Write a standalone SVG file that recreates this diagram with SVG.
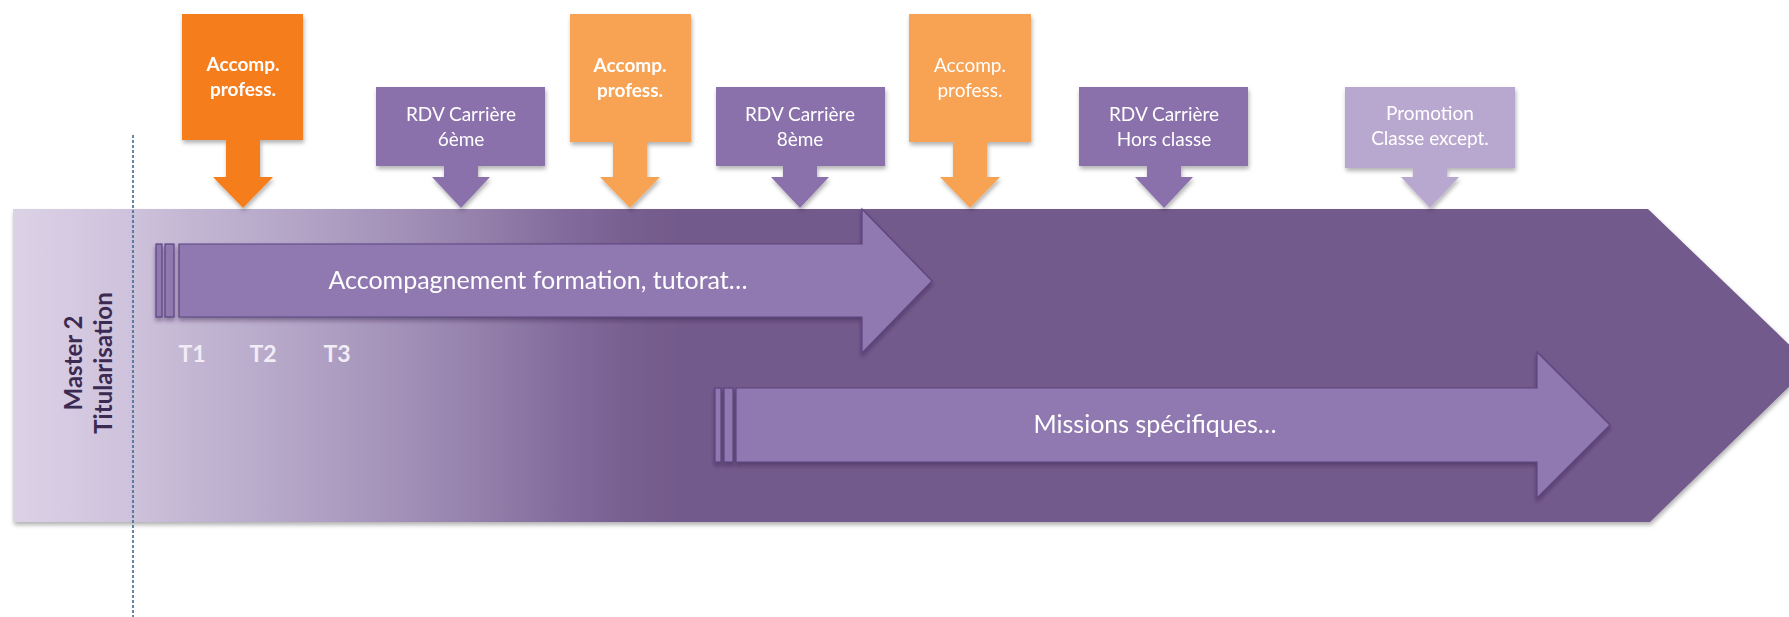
<svg xmlns="http://www.w3.org/2000/svg" width="1789" height="617" viewBox="0 0 1789 617">
<style>
.t{font-family:Lato,"Liberation Sans",sans-serif;fill:#ffffff;text-anchor:middle}
.b{font-weight:bold}
.orangeA{fill:#f57d1f}
.orangeB{fill:#f8a252}
.rdv{fill:#8b71ab}
.promo{fill:#b8a8cf}
.inner{fill:#9079b0;stroke:#5c4580;stroke-width:1.2}
.side{font-family:Lato,"Liberation Sans",sans-serif;font-weight:bold;fill:#3b2a52;text-anchor:middle;font-size:24px}
.tk{font-family:Lato,"Liberation Sans",sans-serif;font-weight:bold;fill:#f1ecf5;font-size:23px;text-anchor:middle}
</style>
<defs>
<linearGradient id="band" gradientUnits="userSpaceOnUse" x1="13" y1="0" x2="1811" y2="0">
<stop offset="0" stop-color="#dcd2e6"/>
<stop offset="0.065" stop-color="#cec2dc"/>
<stop offset="0.1" stop-color="#c3b6d3"/>
<stop offset="0.16" stop-color="#b3a4c6"/>
<stop offset="0.215" stop-color="#a391b8"/>
<stop offset="0.26" stop-color="#9480ab"/>
<stop offset="0.305" stop-color="#836c9d"/>
<stop offset="0.345" stop-color="#775f90"/>
<stop offset="0.37" stop-color="#735a8c"/>
<stop offset="1" stop-color="#735a8c"/>
</linearGradient>
<filter id="sh" x="-10%" y="-10%" width="120%" height="130%">
<feDropShadow dx="1" dy="3" stdDeviation="2" flood-color="#000" flood-opacity="0.3"/>
</filter>
<filter id="sh2" x="-5%" y="-10%" width="110%" height="130%">
<feDropShadow dx="0" dy="3" stdDeviation="2" flood-color="#2a1a40" flood-opacity="0.45"/>
</filter>
</defs>

<g id="band-node">
<polygon points="13,209 1648,209 1811,365.5 1650,522 13,522" fill="url(#band)" filter="url(#sh)"/>
</g>

<g id="separator">
<line x1="133" y1="135" x2="133" y2="617" stroke="#3f6b90" stroke-width="1.6" stroke-dasharray="3,2"/>
</g>

<g id="label-master">
<text class="side" transform="translate(82,363) rotate(-90)">Master 2</text>
<text class="side" transform="translate(112,363) rotate(-90)">Titularisation</text>
</g>

<g id="arrow-accompagnement" filter="url(#sh2)">
<rect class="inner" x="156" y="244" width="6" height="73"/>
<rect class="inner" x="165" y="244" width="9" height="73"/>
<polygon class="inner" points="179,244 862,244 862,209 932,281 862,353 862,317 179,317"/>
<text class="t" x="538" y="289" font-size="25">Accompagnement formation, tutorat…</text>
</g>

<g id="ticks">
<text class="tk" x="192" y="362">T1</text>
<text class="tk" x="263" y="362">T2</text>
<text class="tk" x="337" y="362">T3</text>
</g>

<g id="arrow-missions" filter="url(#sh2)">
<rect class="inner" x="715" y="388" width="6" height="74"/>
<rect class="inner" x="724" y="388" width="9" height="74"/>
<polygon class="inner" points="736,388 1537,388 1537,352 1610,425 1537,498 1537,462 736,462"/>
<text class="t" x="1155" y="433" font-size="25">Missions spécifiques…</text>
</g>

<g id="callout-accomp-1" filter="url(#sh)">
<polygon class="orangeA" points="182,14 303,14 303,140 260,140 260,177 273,177 243,208 213,177 226,177 226,140 182,140"/>
<text class="t b" x="243" y="71" font-size="19">Accomp.</text>
<text class="t b" x="243" y="96" font-size="19">profess.</text>
</g>

<g id="callout-rdv-6" filter="url(#sh)">
<polygon class="rdv" points="376,87 545,87 545,166 478,166 478,177 490,177 461,208 432,177 444,177 444,166 376,166"/>
<text class="t" x="461" y="121" font-size="19">RDV Carrière</text>
<text class="t" x="461" y="146" font-size="19">6ème</text>
</g>

<g id="callout-accomp-2" filter="url(#sh)">
<polygon class="orangeB" points="570,14 691,14 691,142 647,142 647,177 660,177 630,208 600,177 613,177 613,142 570,142"/>
<text class="t b" x="630" y="72" font-size="19">Accomp.</text>
<text class="t b" x="630" y="97" font-size="19">profess.</text>
</g>

<g id="callout-rdv-8" filter="url(#sh)">
<polygon class="rdv" points="716,87 885,87 885,166 817,166 817,177 829,177 800,208 771,177 783,177 783,166 716,166"/>
<text class="t" x="800" y="121" font-size="19">RDV Carrière</text>
<text class="t" x="800" y="146" font-size="19">8ème</text>
</g>

<g id="callout-accomp-3" filter="url(#sh)">
<polygon class="orangeB" points="909,14 1031,14 1031,142 987,142 987,177 1000,177 970,208 940,177 953,177 953,142 909,142"/>
<text class="t" x="970" y="72" font-size="19">Accomp.</text>
<text class="t" x="970" y="97" font-size="19">profess.</text>
</g>

<g id="callout-rdv-hc" filter="url(#sh)">
<polygon class="rdv" points="1079,87 1248,87 1248,166 1181,166 1181,177 1193,177 1164,208 1135,177 1147,177 1147,166 1079,166"/>
<text class="t" x="1164" y="121" font-size="19">RDV Carrière</text>
<text class="t" x="1164" y="146" font-size="19">Hors classe</text>
</g>

<g id="callout-promotion" filter="url(#sh)">
<polygon class="promo" points="1345,87 1515,87 1515,168 1447,168 1447,177 1459,177 1430,208 1401,177 1413,177 1413,168 1345,168"/>
<text class="t" x="1430" y="120" font-size="19">Promotion</text>
<text class="t" x="1430" y="145" font-size="19">Classe except.</text>
</g>
</svg>
